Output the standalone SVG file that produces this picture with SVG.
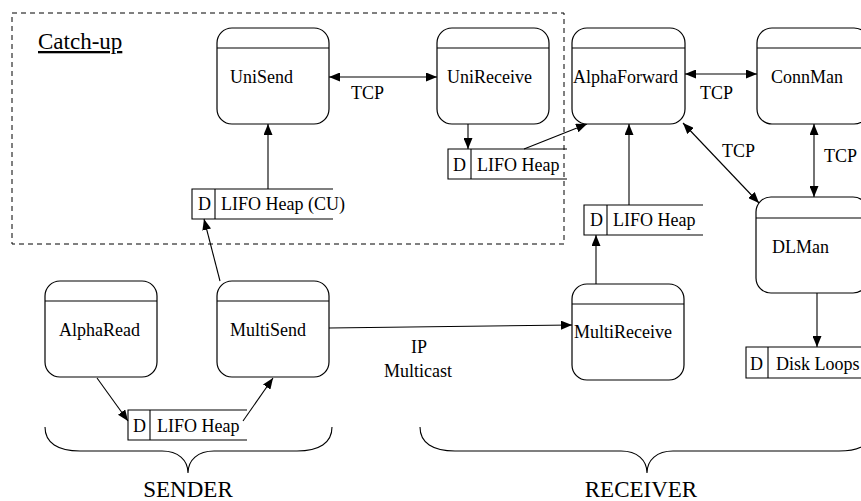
<svg xmlns="http://www.w3.org/2000/svg" width="861" height="501" viewBox="0 0 861 501" font-family="Liberation Serif, Times New Roman, DejaVu Serif, serif">
<style>
text{fill:#000;font-size:18px}
.box{fill:#fff;stroke:#000;stroke-width:1.2}
.hdr{stroke:#000;stroke-width:1.2;fill:none}
.store{fill:none;stroke:#000;stroke-width:1.1}
.conn{stroke:#000;stroke-width:1.1;fill:none}
.brace{stroke:#000;stroke-width:1.1;fill:none}
.big{font-size:23px}
.mid{text-anchor:middle}
</style>
<defs>
<marker id="arr" markerUnits="userSpaceOnUse" markerWidth="11" markerHeight="9" refX="11" refY="4.5" orient="auto-start-reverse">
<path d="M0,0 L11,4.5 L0,9 z" fill="#000"/>
</marker>
</defs>
<rect x="0" y="0" width="861" height="501" fill="#fff"/>
<g id="catchup-region">
<rect x="12" y="13" width="552" height="231" fill="none" stroke="#000" stroke-width="1" stroke-dasharray="5,4"/>
<text x="38" y="49" class="big" text-decoration="underline">Catch-up</text>
</g>
<g id="connectors">
<line class="conn" x1="329" y1="77" x2="437" y2="77" marker-start="url(#arr)" marker-end="url(#arr)"/>
<line class="conn" x1="468" y1="124" x2="468" y2="149" marker-end="url(#arr)"/>
<line class="conn" x1="524" y1="149" x2="587" y2="124" marker-end="url(#arr)"/>
<line class="conn" x1="268" y1="189" x2="268" y2="124" marker-end="url(#arr)"/>
<line class="conn" x1="220" y1="281" x2="204" y2="219" marker-end="url(#arr)"/>
<line class="conn" x1="685" y1="74" x2="757" y2="74" marker-start="url(#arr)" marker-end="url(#arr)"/>
<line class="conn" x1="814" y1="124" x2="814" y2="197" marker-start="url(#arr)" marker-end="url(#arr)"/>
<line class="conn" x1="683" y1="123" x2="759" y2="203" marker-start="url(#arr)" marker-end="url(#arr)"/>
<line class="conn" x1="629" y1="205" x2="629" y2="124" marker-end="url(#arr)"/>
<line class="conn" x1="596" y1="284" x2="596" y2="235" marker-end="url(#arr)"/>
<line class="conn" x1="817" y1="293" x2="817" y2="347" marker-end="url(#arr)"/>
<line class="conn" x1="329" y1="328" x2="572" y2="325" marker-end="url(#arr)"/>
<line class="conn" x1="97" y1="378" x2="128" y2="421" marker-end="url(#arr)"/>
<line class="conn" x1="243" y1="421" x2="273" y2="378" marker-end="url(#arr)"/>
<text x="351" y="99">TCP</text>
<text x="700" y="99">TCP</text>
<text x="722" y="157">TCP</text>
<text x="824" y="162">TCP</text>
<text x="419" y="353" class="mid">IP</text>
<text x="418" y="377" class="mid">Multicast</text>
</g>
<g id="UniSend">
<rect class="box" x="217" y="28" width="112" height="96" rx="15"/>
<line class="hdr" x1="217" y1="48" x2="329" y2="48"/>
<text x="230" y="83">UniSend</text>
</g>
<g id="UniReceive">
<rect class="box" x="437" y="28" width="112" height="96" rx="15"/>
<line class="hdr" x1="437" y1="48" x2="549" y2="48"/>
<text x="447" y="83">UniReceive</text>
</g>
<g id="AlphaForward">
<rect class="box" x="572" y="28" width="113" height="96" rx="15"/>
<line class="hdr" x1="572" y1="48" x2="685" y2="48"/>
<text x="573" y="83">AlphaForward</text>
</g>
<g id="ConnMan">
<rect class="box" x="757" y="28" width="112" height="96" rx="15"/>
<line class="hdr" x1="757" y1="48" x2="869" y2="48"/>
<text x="771" y="83">ConnMan</text>
</g>
<g id="DLMan">
<rect class="box" x="756" y="197" width="112" height="96" rx="15"/>
<line class="hdr" x1="756" y1="218" x2="868" y2="218"/>
<text x="772" y="253">DLMan</text>
</g>
<g id="AlphaRead">
<rect class="box" x="45" y="281" width="112" height="96" rx="15"/>
<line class="hdr" x1="45" y1="301" x2="157" y2="301"/>
<text x="59" y="336">AlphaRead</text>
</g>
<g id="MultiSend">
<rect class="box" x="217" y="281" width="112" height="96" rx="15"/>
<line class="hdr" x1="217" y1="301" x2="329" y2="301"/>
<text x="230" y="336">MultiSend</text>
</g>
<g id="MultiReceive">
<rect class="box" x="572" y="284" width="112" height="96" rx="15"/>
<line class="hdr" x1="572" y1="304" x2="684" y2="304"/>
<text x="574" y="338">MultiReceive</text>
</g>
<g id="store-cu">
<path class="store" d="M333,189 H192 V219 H333 M215,189 V219"/>
<text x="198" y="210">D</text>
<text x="221" y="210">LIFO Heap (CU)</text>
</g>
<g id="store-unireceive">
<path class="store" d="M567,149 H448 V179 H567 M471,149 V179"/>
<text x="453" y="171">D</text>
<text x="477" y="171">LIFO Heap</text>
</g>
<g id="store-receiver">
<path class="store" d="M703,205 H584 V235 H703 M607,205 V235"/>
<text x="590" y="226">D</text>
<text x="613" y="226">LIFO Heap</text>
</g>
<g id="store-disk">
<path class="store" d="M861,347 H746 V378 H861 M768,347 V378"/>
<text x="750" y="370">D</text>
<text x="776" y="370">Disk Loops</text>
</g>
<g id="store-sender">
<path class="store" d="M247,410 H128 V440 H247 M150,410 V440"/>
<text x="133" y="432">D</text>
<text x="157" y="432">LIFO Heap</text>
</g>
<g id="sender-group">
<path class="brace" d="M45,427 C45,443 58,451 80,451 H162 C178,451 188,460 188,473 C188,460 198,451 214,451 H297 C319,451 332,443 332,427"/>
<text x="188" y="497" class="big mid">SENDER</text>
</g>
<g id="receiver-group">
<path class="brace" d="M420,427 C420,443 433,451 455,451 H621 C637,451 647,460 647,473 C647,460 657,451 673,451 H839 C861,451 874,443 874,427"/>
<text x="641" y="497" class="big mid">RECEIVER</text>
</g>
</svg>
